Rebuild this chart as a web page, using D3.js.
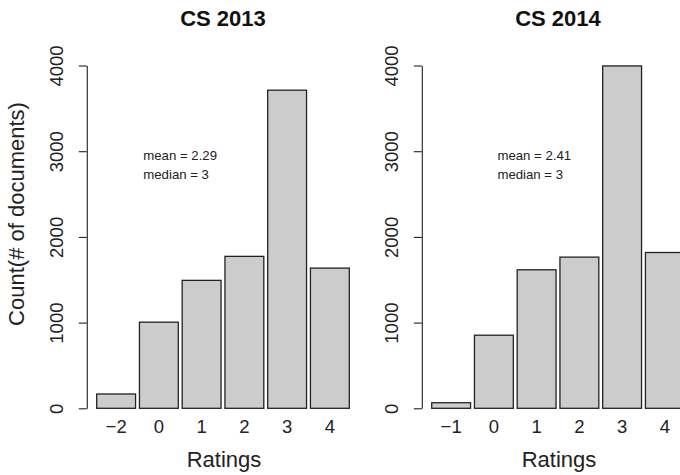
<!DOCTYPE html>
<html>
<head>
<meta charset="utf-8">
<script src="https://cdn.jsdelivr.net/npm/d3@7"></script>
<style>
  body { margin: 0; background: #fff; }
  svg { display: block; font-family: "Liberation Sans", Arial, Helvetica, sans-serif; }
</style>
</head>
<body>
<div id="app"></div>
<script>
// --- data ---
const ratings2013 = [-2, 0, 1, 2, 3, 4];
const counts2013 = [167, 1005, 1493, 1773, 3712, 1636];
const ratings2014 = [-1, 0, 1, 2, 3, 4];
const counts2014 = [65, 853, 1616, 1764, 3995, 1818];
const yTicks = [0, 1000, 2000, 3000, 4000];
const titles = ["CS 2013", "CS 2014"];
const statLines2013 = ["mean = 2.29", "median = 3"];
const statLines2014 = ["mean = 2.41", "median = 3"];

const width = 680;
const height = 475;

// panel geometry (left panel, the right one is shifted)
const panelShift = 335;
const axisX = 86.8;
const barLeft = 96.7, barRight = 349.3;
const yTop = 65.5, yBottom = 408.3;
const statX = [56.5, 75.6]; // offset of stats text from the y axis

const svg = d3.select("#app")
    .append("svg")
    .attr("width", width)
    .attr("height", height)
    .attr("viewBox", [0, 0, width, height]);

const fmt = v => v < 0 ? "\u2212" + Math.abs(v) : String(v);

function drawPanel(i, ratings, counts, stats) {
    const g = svg.append("g").attr("transform", `translate(${i * panelShift},0)`);

    const x = d3.scaleBand()
        .domain(ratings)
        .range([barLeft, barRight])
        .paddingInner(0.1 / 1.1)
        .paddingOuter(0);

    const y = d3.scaleLinear()
        .domain([0, 4000])
        .range([yBottom, yTop]);

    const rows = ratings.map((r, k) => ({ r, c: counts[k] }));

    // bars
    g.append("g")
        .selectAll("rect")
        .data(rows)
        .join("rect")
        .attr("x", d => x(d.r))
        .attr("y", d => y(d.c))
        .attr("width", x.bandwidth())
        .attr("height", d => y(0) - y(d.c))
        .attr("fill", "#cccccc")
        .attr("stroke", "#222")
        .attr("stroke-width", 1.3);

    // y axis
    const yAxis = g.append("g")
        .attr("transform", `translate(${axisX},0)`)
        .call(d3.axisLeft(y).tickValues(yTicks).tickSize(8).tickSizeOuter(0).tickFormat(d3.format("d")));
    yAxis.select(".domain").attr("stroke", "#222").attr("stroke-width", 1.1);
    yAxis.selectAll(".tick line").attr("stroke", "#222").attr("stroke-width", 1.1);
    yAxis.selectAll(".tick text")
        .attr("x", null).attr("dy", null)
        .attr("transform", `translate(${63 - axisX},0) rotate(-90)`)
        .attr("text-anchor", "middle")
        .attr("font-size", 18.5)
        .attr("fill", "#222");

    // x labels (no ticks, like barplot names)
    g.append("g")
        .selectAll("text")
        .data(ratings)
        .join("text")
        .attr("x", d => x(d) + x.bandwidth() / 2)
        .attr("y", 433.3)
        .attr("text-anchor", "middle")
        .attr("font-size", 18.5)
        .attr("fill", "#222")
        .text(fmt);

    // title
    g.append("text")
        .attr("x", 223)
        .attr("y", 26)
        .attr("text-anchor", "middle")
        .attr("font-size", 22)
        .attr("font-weight", "bold")
        .attr("fill", "#111")
        .text(titles[i]);

    // x label
    g.append("text")
        .attr("x", 224)
        .attr("y", 466.5)
        .attr("text-anchor", "middle")
        .attr("font-size", 22)
        .attr("fill", "#222")
        .text("Ratings");

    // y label only on the first panel
    if (i === 0) {
        g.append("text")
            .attr("transform", "translate(24,214) rotate(-90)")
            .attr("text-anchor", "middle")
            .attr("font-size", 22)
            .attr("fill", "#222")
            .text("Count(# of documents)");
    }

    // stats text
    g.append("g")
        .selectAll("text")
        .data(stats)
        .join("text")
        .attr("x", axisX + statX[i])
        .attr("y", (d, k) => 160 + k * 18.5)
        .attr("font-size", 13.2)
        .attr("fill", "#222")
        .text(d => d);
}

drawPanel(0, ratings2013, counts2013, statLines2013);
drawPanel(1, ratings2014, counts2014, statLines2014);
</script>
</body>
</html>
